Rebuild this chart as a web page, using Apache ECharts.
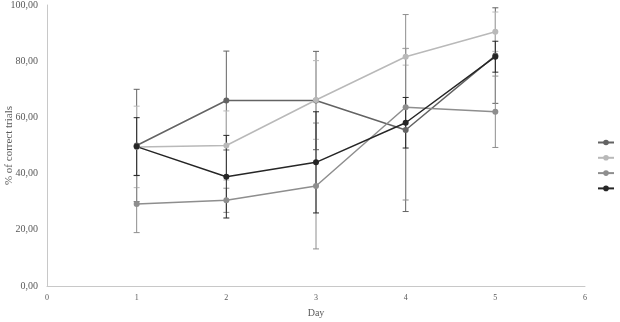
<!DOCTYPE html>
<html>
<head>
<meta charset="utf-8">
<script src="https://cdn.jsdelivr.net/npm/echarts@6/dist/echarts.min.js"></script>
<style>
  html, body { margin: 0; padding: 0; background: #fff; }
  #chart { width: 620px; height: 322px; }
</style>
</head>
<body>
<div id="chart"></div>
<script>
const days = [1, 2, 3, 4, 5];
const names = ['A', 'B', 'C', 'D'];
const colors = ['#636363', '#b9b9b9', '#8e8e8e', '#262626'];

// mean % of correct trials per day
const mean1 = [50, 66, 66, 55.5, 82];
const mean2 = [49.5, 50, 66.2, 81.6, 90.5];
const mean3 = [29.2, 30.5, 35.6, 63.6, 62];
const mean4 = [49.6, 38.9, 44, 58.1, 81.6];

// error (+/-)
const err1 = [20, 17.6, 17.5, 29, 17];
const err2 = [14.5, 12.3, 14, 3, 7];
const err3 = [10.2, 4.3, 22.4, 33, 12.7];
const err4 = [10.3, 14.7, 18, 9, 5.5];

const means = [mean1, mean2, mean3, mean4];
const errs = [err1, err2, err3, err4];

const chart = echarts.init(document.getElementById('chart'));

const font = 'Liberation Serif';

const lineSeries = means.map((m, i) => ({
  name: names[i],
  type: 'line',
  z: 3,
  data: days.map((d, j) => [d, m[j]]),
  symbol: 'circle',
  symbolSize: 6,
  lineStyle: { color: colors[i], width: 1.5 },
  itemStyle: { color: colors[i] }
}));

const errSeries = means.map((m, i) => ({
  type: 'custom',
  z: 2,
  data: days.map((d, j) => [d, m[j] - errs[i][j], m[j] + errs[i][j]]),
  renderItem: (params, api) => {
    const x = api.value(0);
    const lo = api.coord([x, api.value(1)]);
    const hi = api.coord([x, api.value(2)]);
    const w = 3;
    const style = { stroke: colors[i], lineWidth: 1 };
    return {
      type: 'group',
      children: [
        { type: 'line', shape: { x1: lo[0], y1: lo[1], x2: hi[0], y2: hi[1] }, style },
        { type: 'line', shape: { x1: lo[0] - w, y1: lo[1], x2: lo[0] + w, y2: lo[1] }, style },
        { type: 'line', shape: { x1: hi[0] - w, y1: hi[1], x2: hi[0] + w, y2: hi[1] }, style }
      ]
    };
  }
}));

const option = {
  animation: false,
  backgroundColor: '#fff',
  textStyle: { fontFamily: font },
  legend: {
    data: names,
    orient: 'vertical',
    right: 0,
    top: 134,
    itemWidth: 16,
    itemHeight: 7,
    itemGap: 9,
    formatter: () => '',
    textStyle: { fontFamily: font }
  },
  grid: { left: 47, right: 35, top: 5, bottom: 36, outerBoundsMode: 'none', containLabel: false },
  xAxis: {
    type: 'value',
    min: 0,
    max: 6,
    interval: 1,
    name: 'Day',
    nameLocation: 'middle',
    nameGap: 22,
    nameMoveOverlap: false,
    nameTextStyle: { color: '#595959', fontSize: 10, fontFamily: font },
    axisLine: { lineStyle: { color: '#c8c8c8' } },
    axisTick: { show: false },
    splitLine: { show: false },
    axisLabel: { color: '#595959', fontSize: 8, fontFamily: font, margin: 8 }
  },
  yAxis: {
    type: 'value',
    min: 0,
    max: 100,
    interval: 20,
    name: '% of correct trials',
    nameLocation: 'middle',
    nameGap: 32,
    nameMoveOverlap: false,
    nameTextStyle: { color: '#595959', fontSize: 11, fontFamily: font },
    axisLine: { show: true, lineStyle: { color: '#c8c8c8' } },
    axisTick: { show: false },
    splitLine: { show: false },
    axisLabel: {
      color: '#595959',
      fontSize: 10,
      fontFamily: font,
      margin: 9,
      formatter: v => v.toFixed(2).replace('.', ',')
    }
  },
  series: [...errSeries, ...lineSeries]
};

chart.setOption(option);
</script>
</body>
</html>
